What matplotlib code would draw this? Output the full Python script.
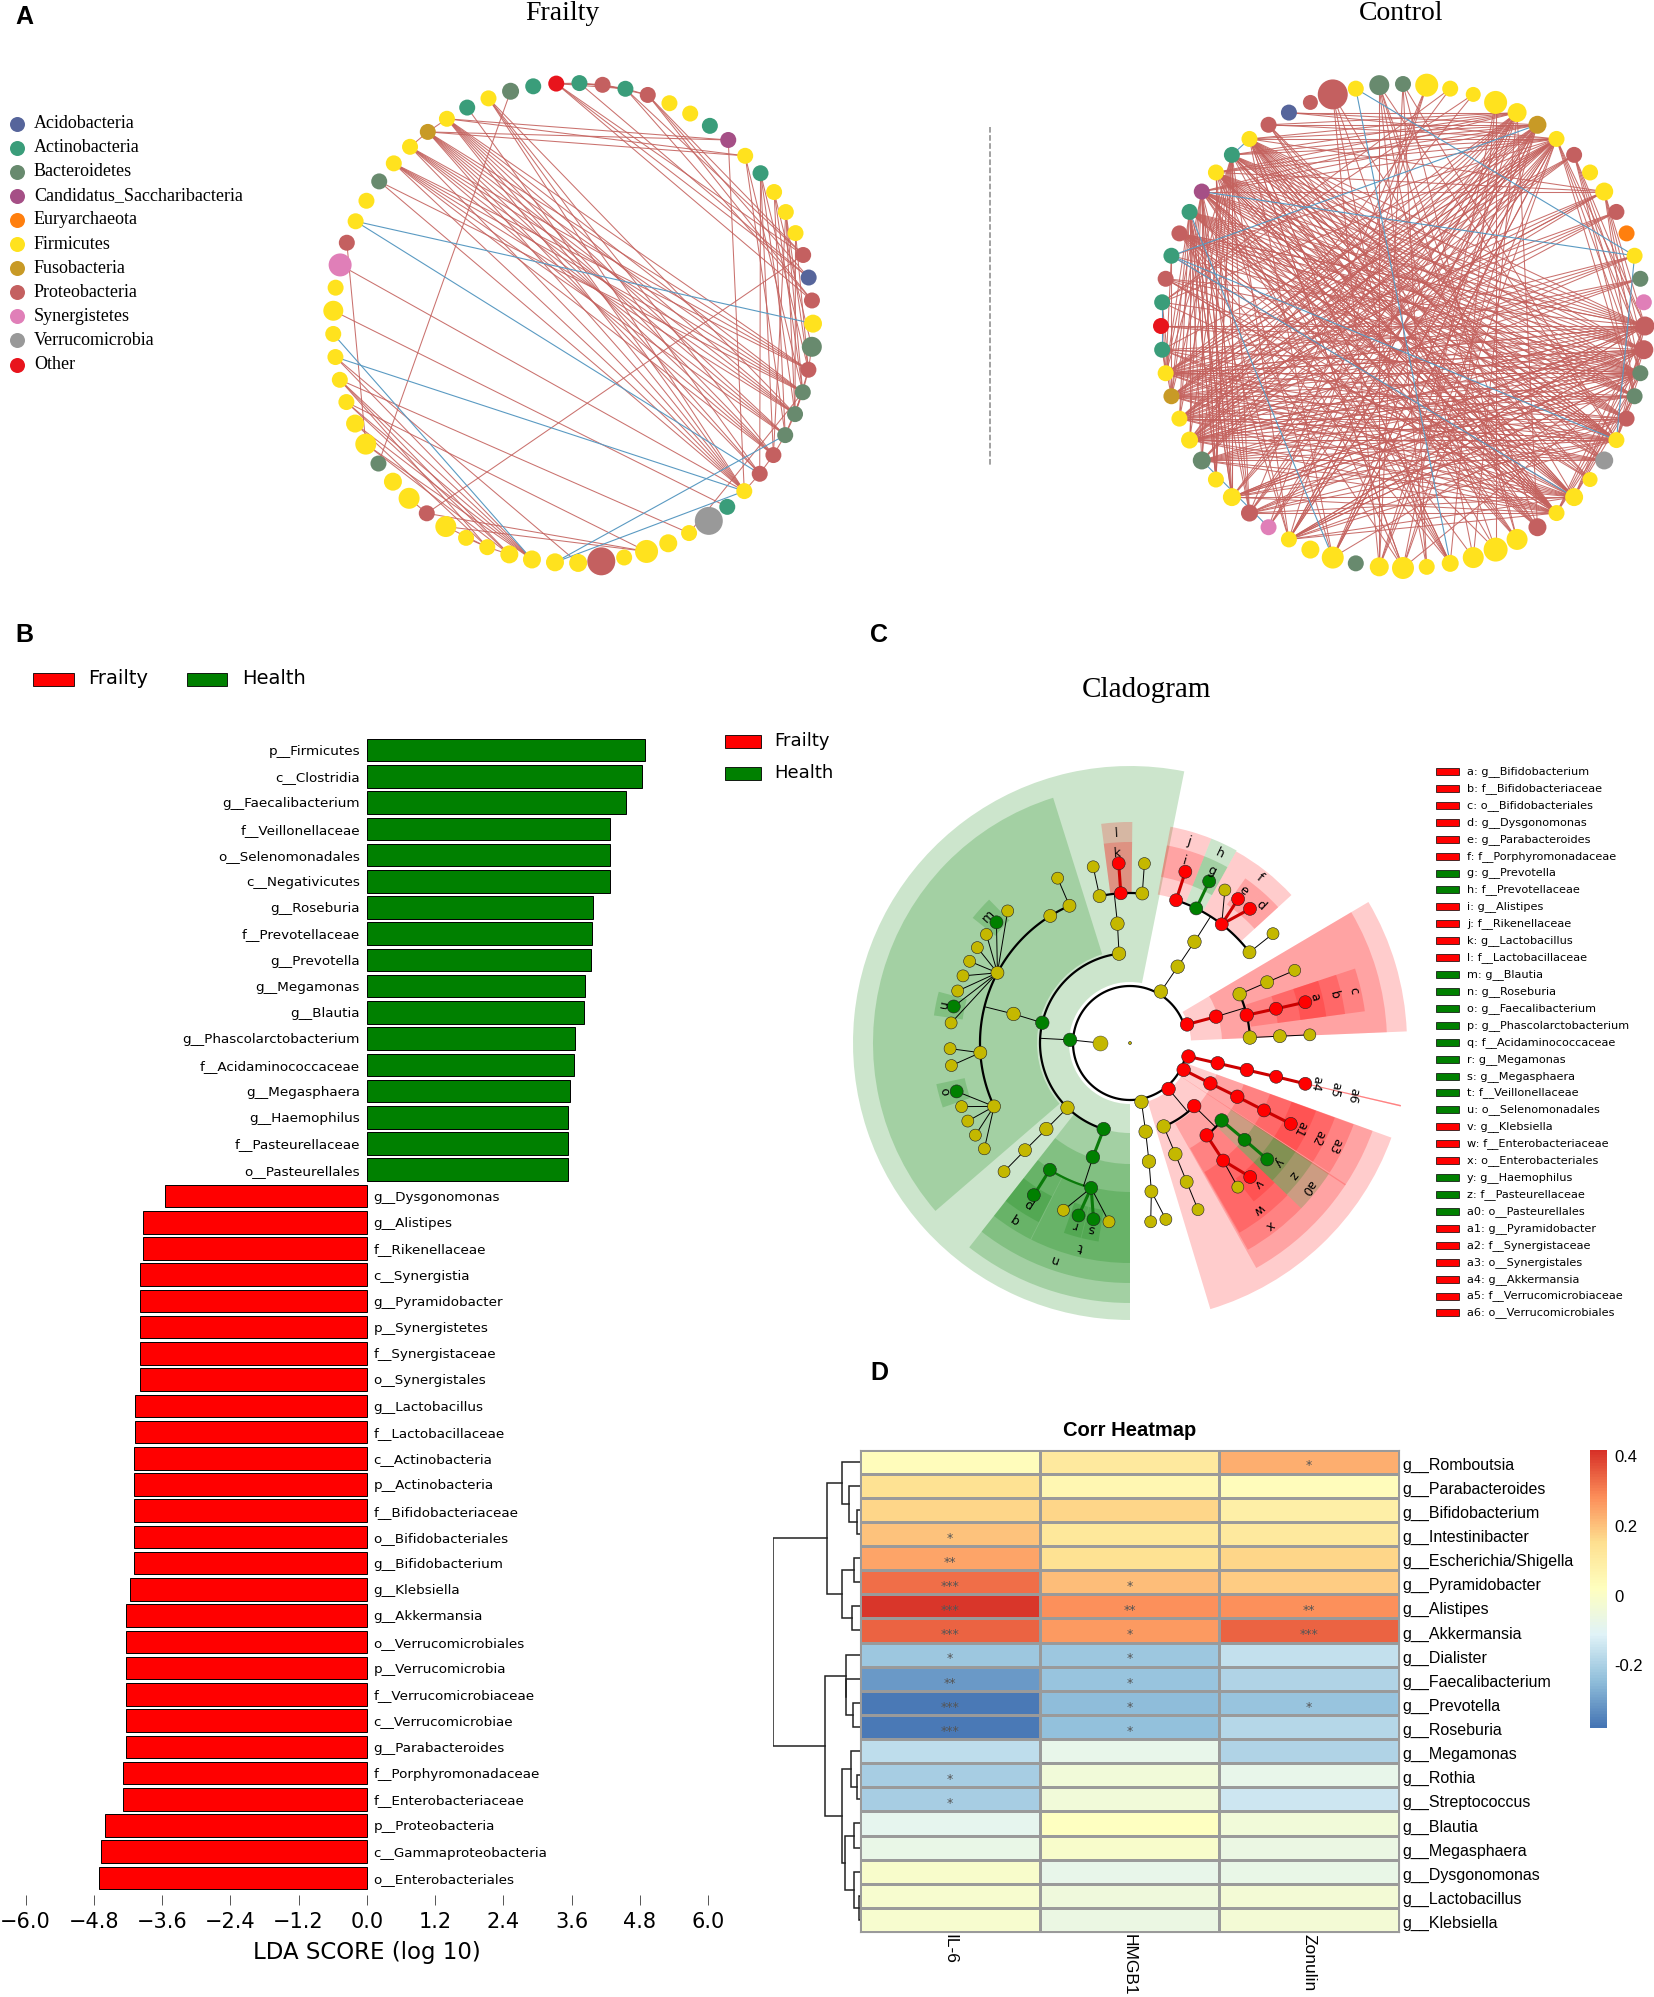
import numpy as np
import matplotlib
matplotlib.use('Agg')
import matplotlib.pyplot as plt
from matplotlib.colors import LinearSegmentedColormap
from matplotlib.patches import Wedge, Rectangle

W, H = 1654, 1997

# ---------- panel A data ----------
phylum_names = ['Acidobacteria', 'Actinobacteria', 'Bacteroidetes', 'Candidatus_Saccharibacteria',
                'Euryarchaeota', 'Firmicutes', 'Fusobacteria', 'Proteobacteria', 'Synergistetes',
                'Verrucomicrobia', 'Other']
phylum_codes = ['Ac', 'A', 'B', 'C', 'E', 'F', 'Fu', 'P', 'S', 'V', 'O']
phylum_colors = ['#56659b', '#3a9d7a', '#688a6e', '#a54f86', '#ff7f0e', '#ffe21e', '#c89a26',
                 '#c46060', '#e07fb8', '#999999', '#e8141c']

frailty_nodes = ('O A P A P F F A C F A F F F P Ac P F B P B B B P P F A V F F F F P F F F F F F F '
                 'P F F B F F F F F F F F S P F F B F F Fu F A F B A').split()
frailty_sizes = [16, 16, 16, 16, 16, 16, 16, 16, 16, 16, 16, 16, 16, 16, 16, 16, 16, 18, 20, 16,
                 16, 16, 16, 16, 16, 16, 16, 28, 16, 18, 23, 16, 28, 18, 18, 18, 18, 16, 16, 21,
                 16, 21, 18, 16, 21, 18, 16, 16, 16, 16, 20, 16, 23, 16, 16, 16, 16, 16, 16, 16,
                 16, 16, 16, 17, 16]
frailty_red = [(0, 1), (1, 2), (2, 3), (3, 4), (0, 2), (0, 3), (1, 3), (2, 4), (59, 60), (58, 59),
               (60, 8), (60, 9), (59, 8), (59, 9), (62, 21), (62, 23), (62, 24), (62, 25),
               (61, 25), (56, 20), (56, 25), (0, 14), (0, 15), (0, 16), (3, 14), (3, 16), (4, 14),
               (4, 15), (4, 16), (1, 15), (8, 25), (10, 23), (10, 24), (10, 19), (10, 21),
               (11, 18), (11, 20), (11, 22), (12, 19), (12, 20), (12, 21), (12, 23), (13, 19),
               (13, 21), (9, 20), (9, 22), (19, 20), (20, 21), (21, 22), (22, 23), (19, 21),
               (20, 22), (18, 19), (23, 24), (24, 25), (63, 43), (53, 44), (40, 14), (52, 25),
               (50, 26), (28, 20), (47, 35), (47, 36), (47, 37), (46, 35), (46, 36), (45, 35),
               (45, 37), (48, 35), (44, 35), (44, 36), (46, 30), (47, 28), (39, 30), (40, 30),
               (39, 37), (38, 37), (37, 36), (40, 41), (48, 33), (60, 25), (59, 25), (58, 25),
               (57, 25), (60, 24), (59, 24)]
frailty_red_bundle = ([60, 59, 58, 57], [19, 20, 21, 22, 23])
frailty_blue = [(54, 17), (54, 24), (48, 25), (49, 35), (34, 22), (34, 25)]

control_nodes = ('P F B B F F F F F Fu F P F F P E F B S P P B B P F V F F F P F F F F F F F B F F '
                 'F S P F F B F F Fu F A O A P A P A C F A F P Ac P').split()
control_sizes = [30, 16, 20, 16, 23, 16, 15, 23, 19, 18, 16, 16, 16, 18, 16, 16, 16, 16, 16, 19,
                 19, 16, 16, 16, 16, 18, 15, 18, 16, 18, 21, 24, 21, 17, 16, 22, 19, 16, 22, 18,
                 16, 16, 17, 18, 16, 18, 17, 16, 16, 16, 16, 16, 16, 16, 16, 16, 16, 16, 16, 16,
                 16, 16, 16, 15]
control_red_bundles = [([55, 56, 57, 58, 59, 60], [19, 20, 21, 22, 23, 24]),
                       ([57, 58, 59, 60], [27, 28, 30, 33]),
                       ([8, 9, 10], [45, 46, 47, 48, 49, 57, 58, 59, 60, 61, 62]),
                       ([13], [60, 58, 57, 47]),
                       ([45, 46, 47, 48, 49], [19, 20, 21, 22, 23, 24, 25]),
                       ([40, 42, 43], [8, 9, 10, 19, 20, 21, 23, 24, 27, 28]),
                       ([0], [36, 31, 27, 34]),
                       ([2, 3], [30, 34, 24, 36]),
                       ([4], [41, 40, 42]),
                       ([5, 6], [52, 46]),
                       ([56, 57, 59], [43, 44, 45, 46, 47, 48, 49, 40]),
                       ([52, 54, 50], [48, 49, 10, 21, 27]),
                       ([19, 20, 21, 22], [24, 27, 28, 11, 10, 13]),
                       ([27, 28], [49, 48, 45, 53, 56]),
                       ([38, 35], [10, 9, 58, 60, 21]),
                       ([29, 32], [2, 8, 57]),
                       ([46, 47, 48, 49], [10, 11, 13, 14, 16, 17]),
                       ([8, 9, 10], [36, 38, 40, 41]),
                       ([42, 43, 44], [56, 57, 58, 59]),
                       ([24, 27, 28], [57, 58, 59, 60, 46, 47]),
                       ([31, 33, 35], [55, 60, 7]),
                       ([55, 56, 58, 60, 61], [25, 26, 28, 29]),
                       ([19, 20, 21], [40, 43, 46, 49, 51]),
                       ([50, 53, 55], [21, 24, 28, 19])]
control_blue = [(1, 33), (1, 16), (60, 59), (54, 9), (57, 16), (54, 27), (56, 38), (54, 24),
                (16, 24), (52, 50), (45, 41)]

# ---------- panel B data ----------
lda_names = ['p__Firmicutes', 'c__Clostridia', 'g__Faecalibacterium', 'f__Veillonellaceae',
             'o__Selenomonadales', 'c__Negativicutes', 'g__Roseburia', 'f__Prevotellaceae',
             'g__Prevotella', 'g__Megamonas', 'g__Blautia', 'g__Phascolarctobacterium',
             'f__Acidaminococcaceae', 'g__Megasphaera', 'g__Haemophilus', 'f__Pasteurellaceae',
             'o__Pasteurellales', 'g__Dysgonomonas', 'g__Alistipes', 'f__Rikenellaceae',
             'c__Synergistia', 'g__Pyramidobacter', 'p__Synergistetes', 'f__Synergistaceae',
             'o__Synergistales', 'g__Lactobacillus', 'f__Lactobacillaceae', 'c__Actinobacteria',
             'p__Actinobacteria', 'f__Bifidobacteriaceae', 'o__Bifidobacteriales',
             'g__Bifidobacterium', 'g__Klebsiella', 'g__Akkermansia', 'o__Verrucomicrobiales',
             'p__Verrucomicrobia', 'f__Verrucomicrobiaceae', 'c__Verrucomicrobiae',
             'g__Parabacteroides', 'f__Porphyromonadaceae', 'f__Enterobacteriaceae',
             'p__Proteobacteria', 'c__Gammaproteobacteria', 'o__Enterobacteriales']
lda_values = [4.90, 4.84, 4.55, 4.28, 4.27, 4.27, 3.97, 3.96, 3.95, 3.83, 3.82, 3.66, 3.65, 3.58,
              3.54, 3.53, 3.53, -3.54, -3.94, -3.94, -3.99, -3.99, -3.99, -3.99, -3.99, -4.07,
              -4.07, -4.10, -4.10, -4.10, -4.10, -4.10, -4.16, -4.23, -4.23, -4.23, -4.23, -4.23,
              -4.23, -4.28, -4.28, -4.61, -4.68, -4.70]
lda_ticks = [-6.0, -4.8, -3.6, -2.4, -1.2, 0.0, 1.2, 2.4, 3.6, 4.8, 6.0]

# ---------- panel C data ----------
clade_legend = ['a: g__Bifidobacterium', 'b: f__Bifidobacteriaceae', 'c: o__Bifidobacteriales',
                'd: g__Dysgonomonas', 'e: g__Parabacteroides', 'f: f__Porphyromonadaceae',
                'g: g__Prevotella', 'h: f__Prevotellaceae', 'i: g__Alistipes', 'j: f__Rikenellaceae',
                'k: g__Lactobacillus', 'l: f__Lactobacillaceae', 'm: g__Blautia', 'n: g__Roseburia',
                'o: g__Faecalibacterium', 'p: g__Phascolarctobacterium', 'q: f__Acidaminococcaceae',
                'r: g__Megamonas', 's: g__Megasphaera', 't: f__Veillonellaceae',
                'u: o__Selenomonadales', 'v: g__Klebsiella', 'w: f__Enterobacteriaceae',
                'x: o__Enterobacteriales', 'y: g__Haemophilus', 'z: f__Pasteurellaceae',
                'a0: o__Pasteurellales', 'a1: g__Pyramidobacter', 'a2: f__Synergistaceae',
                'a3: o__Synergistales', 'a4: g__Akkermansia', 'a5: f__Verrucomicrobiaceae',
                'a6: o__Verrucomicrobiales']
clade_legend_group = list('rrrrrrggrrrrggggggggg') + list('rrrggg') + list('rrrrrr')
clade_label_angle = [346, 346.7, 346.9, 313.4, 306.8, 308.2, 295.3, 295.3, 286.6, 286.4, 266.3,
                     266.4, 221.8, 109.4, 165.2, 122.6, 123, 106.9, 101.7, 103.5, 191.8, 47.4,
                     52.4, 52.5, 38.6, 38.9, 39, 26.6, 26.8, 26.7, 12.3, 12.8, 13.1]
clade_label_ring = [0, 1, 2, 0, 0, 1, 0, 1, 0, 1, 0, 1, 0, 2, 0, 0, 1, 0, 0, 1, 0, 0, 1, 2, 0, 1, 2,
                    0, 1, 2, 0, 1, 2]

clade_angle = [0, 183, 301, 342, 13, 26.6, 50, 79,
               193, 263, 134, 107, 302, 343, 13, 26.7, 44.5, 68, 80,
               194, 264, 134.2, 108, 302.5, 336, 346.6, 357.4, 13, 26.6, 40.2, 50.3, 67.8, 80.9,
               176.3, 207.9, 155, 237.9, 246.2, 266.5, 258.3, 274.7, 134.4, 122.3, 105, 81.8,
               67.8, 51.6, 40.2, 26.7, 13, 346.8, 336.1, 357.4, 287.9, 296.2, 307.7, 322.8,
               246.3, 227.2, 222.1, 217.1, 212, 207, 201.9, 196.8, 191.7, 186.4, 178.2, 172.8,
               164.4, 159.3, 154.3, 149.2, 144, 134.4, 122.3, 111.7, 106.6, 101.7, 96.7, 258.2,
               266.4, 274.6, 287.9, 296.1, 301.8, 306.9, 311.8, 322.6, 336.2, 346.9, 357.4, 13.1,
               26.7, 40.3, 48.1, 53.2, 67.8, 78.5, 83.4]
clade_level = [0] + [1] * 7 + [2] * 11 + [3] * 14 + [4] * 24 + [5] * 43
clade_color = list('y' 'gyrrrry' 'gyygyrrrryy' 'yyygyyryrrgryy'
                   'yyyyyryyyggyyrgrrryyrgry'
                   'yyg' 'yyyyyg' 'yyyg' 'yyyyyg' 'yggy' 'yry' 'rgyrr' 'yyryrrgryyyy')
clade_parent = [-1, 0, 0, 0, 0, 0, 0, 0,
                1, 1, 1, 1, 2, 3, 4, 5, 6, 6, 7,
                8, 9, 10, 11, 12, 13, 13, 13, 14, 15, 16, 16, 17, 18,
                19, 19, 19, 19, 19, 20, 20, 20, 21, 22, 22, 32, 31, 30, 29, 28, 27, 25, 24, 26,
                23, 23, 23, 23,
                37, 34, 34, 34, 34, 34, 34, 34, 34, 34, 33, 33, 35, 35, 35, 35, 35, 41, 42, 43,
                43, 43, 43, 39, 38, 40, 53, 54, 55, 55, 55, 56, 51, 50, 52, 49, 48, 47, 46, 46,
                45, 44, 44]
clade_level_radius = [0, 60, 90, 120, 150, 180]
label_ring_radius = [190, 210, 229]

# start angle, end angle, inner radius, outer radius, group
shade_start = [90, 139.2, 90, 90, 90, 116.9, 117, 104.2, 99, 218.5, 188, 161,
               262.5, 262.5, 280.6, 280.6, 291.7, 291.7, 299, 305, 311,
               329.4, 329.4, 341.7, 341.7, 341.7, 12.9, 12.9, 12.9,
               19.9, 19.9, 20, 20, 20, 44, 44, 44, 33.3, 33.3, 33.3, 33.2]
shade_end = [281.3, 252.6, 128.2, 128.2, 116.7, 128.2, 128.2, 109.2, 104, 225.5, 195, 168,
             270.6, 270.6, 291.7, 291.7, 299, 299, 317.5, 311, 317.5,
             357.6, 357.6, 352.3, 352.3, 352.3, 13.2, 13.2, 13.2,
             73.2, 60.7, 33, 33, 33, 60.3, 60, 52, 44, 44, 44, 33.5]
shade_inner = [61, 93, 90, 121, 149, 149, 172, 169, 169, 172, 169, 169,
               151, 151, 151, 169, 151, 169, 151, 169, 169,
               61, 92, 122, 149, 172, 61, 61, 61,
               61, 92, 121, 149, 172, 121, 149, 172, 121, 149, 172, 61]
shade_outer = [277, 257, 260, 240, 220, 220, 201, 201, 201, 201, 198, 198,
               221, 201, 220, 201, 220, 201, 219, 201, 201,
               277, 257, 237, 217, 198, 278, 278, 278,
               278, 258, 238, 218, 198, 238, 219, 201, 238, 218, 198, 258]
shade_group = list('gggggggggggg') + list('rrrrggrrr') + list('rrrrrrrr') + list('rrrrrrrr') + list('gggr')

# ---------- panel D data ----------
heat_rows = ['g__Romboutsia', 'g__Parabacteroides', 'g__Bifidobacterium', 'g__Intestinibacter',
             'g__Escherichia/Shigella', 'g__Pyramidobacter', 'g__Alistipes', 'g__Akkermansia',
             'g__Dialister', 'g__Faecalibacterium', 'g__Prevotella', 'g__Roseburia',
             'g__Megamonas', 'g__Rothia', 'g__Streptococcus', 'g__Blautia', 'g__Megasphaera',
             'g__Dysgonomonas', 'g__Lactobacillus', 'g__Klebsiella']
heat_cols = ['IL-6', 'HMGB1', 'Zonulin']
il6_corr = [.03, .14, .17, .20, .25, .33, .41, .34, -.22, -.31, -.37, -.365, -.17, -.21, -.21,
            -.09, -.07, -.01, -.015, -.015]
hmgb1_corr = [.11, .06, .17, .12, .14, .21, .28, .26, -.22, -.23, -.25, -.24, -.08, -.04, -.04,
              .015, -.01, -.08, -.05, -.06]
zonulin_corr = [.23, .03, .09, .11, .17, .18, .28, .34, -.16, -.19, -.23, -.18, -.19, -.08, -.14,
                -.04, -.06, -.07, -.03, -.03]
il6_stars = ['', '', '', '*', '**', '***', '***', '***', '*', '**', '***', '***', '', '*', '*',
             '', '', '', '', '']
hmgb1_stars = ['', '', '', '', '', '*', '**', '*', '*', '*', '*', '*', '', '', '', '', '', '', '', '']
zonulin_stars = ['*', '', '', '', '', '', '**', '***', '', '', '*', '', '', '', '', '', '', '', '', '']
heat_palette = ['#4575B4', '#91BFDB', '#E0F3F8', '#FFFFBF', '#FEE090', '#FC8D59', '#D73027']
heat_ticks = [0.4, 0.2, 0, -0.2]
heat_min, heat_max = -0.378, 0.4186

# merges: leaf index or 20 + earlier merge number
dend_left = [2, 1, 0, 4, 6, 23, 22, 10, 9, 8, 13, 12, 18, 17, 15, 34, 31, 29, 26]
dend_right = [3, 20, 21, 5, 7, 24, 25, 11, 27, 28, 14, 30, 19, 32, 16, 33, 35, 36, 37]
dend_height = [5, 20, 31, 11, 14, 31, 59, 12, 24, 24, 5, 16, 2, 11, 11, 26, 31, 62, 154]


def polar(cx, cy, r, deg):
    t = np.radians(deg)
    return cx + r * np.cos(t), cy + r * np.sin(t)


def dot(d):
    return (d * 0.72) ** 2


def add_axes_px(x0, y0, x1, y1):
    return fig.add_axes([x0 / W, 1 - y1 / H, (x1 - x0) / W, (y1 - y0) / H])


fig = plt.figure(figsize=(W / 100, H / 100), dpi=100)
ov = fig.add_axes([0, 0, 1, 1])
ov.set_xlim(0, W)
ov.set_ylim(H, 0)
ov.axis('off')

SERIF = 'Liberation Serif'
SANS = 'Liberation Sans'

for letter, x, y in [('A', 15, 17), ('B', 15, 635), ('C', 870, 635), ('D', 870, 1373)]:
    ov.text(x, y, letter, fontsize=18, fontweight='bold', family=SANS, ha='left', va='center')

# ---------- A: networks ----------
color_of = dict(zip(phylum_codes, phylum_colors))


def draw_network(nodes, sizes, red, blue, cx, cy, radius, start):
    n = len(nodes)
    pts = [polar(cx, cy, radius, start - 90 + 360 / n * i) for i in range(n)]
    for a, b in red:
        ov.plot([pts[a][0], pts[b][0]], [pts[a][1], pts[b][1]], color='#c4625e', lw=0.75, alpha=0.9, zorder=1)
    for a, b in blue:
        ov.plot([pts[a][0], pts[b][0]], [pts[a][1], pts[b][1]], color='#5a9ac2', lw=0.8, zorder=1.5)
    ov.scatter([p[0] for p in pts], [p[1] for p in pts], s=[dot(d) for d in sizes],
               c=[color_of[c] for c in nodes], linewidths=0, zorder=3)


frailty_all = frailty_red + [(a, b) for a in frailty_red_bundle[0] for b in frailty_red_bundle[1]]
draw_network(frailty_nodes, frailty_sizes, frailty_all, frailty_blue, 573, 323, 240, -4)
control_all = [(a, b) for src, dst in control_red_bundles for a in src for b in dst]
draw_network(control_nodes, control_sizes, control_all, control_blue, 1403, 326, 242, -16.875)

ov.text(562, 13, 'Frailty', family=SERIF, fontsize=20, ha='center', va='center')
ov.text(1401, 13, 'Control', family=SERIF, fontsize=20, ha='center', va='center')
ov.plot([989.5, 989.5], [127, 465], color='#888888', lw=1.1, ls='--')
for i, (name, col) in enumerate(zip(phylum_names, phylum_colors)):
    y = 123.5 + i * 24.1
    ov.scatter([17], [y], s=dot(15), c=col, linewidths=0)
    ov.text(34, y, name, family=SERIF, fontsize=13, va='center')

# ---------- B: LDA bars ----------
ax = add_axes_px(25.5, 737, 708, 1895)
ypos = np.arange(len(lda_values))
ax.barh(ypos, lda_values, height=0.86, color=['green' if v > 0 else 'red' for v in lda_values],
        edgecolor='black', linewidth=0.7)
for y, v, name in zip(ypos, lda_values, lda_names):
    if v > 0:
        ax.text(-0.12, y + 0.05, name, ha='right', va='center', fontsize=9.7)
    else:
        ax.text(0.12, y + 0.05, name, ha='left', va='center', fontsize=9.7)
ax.set_xlim(-6, 6)
ax.set_ylim(43.65, -0.5)
ax.set_yticks([])
ax.set_xticks(lda_ticks)
ax.set_xticklabels([f'{t:.1f}'.replace('-', '\u2212') for t in lda_ticks], fontsize=15)
ax.tick_params(axis='x', length=7, width=0.7, color='#555555', pad=5)
ax.set_xlabel('LDA SCORE (log 10)', fontsize=16.5, labelpad=7)
for s in ax.spines.values():
    s.set_visible(False)
ax.patch.set_alpha(0)

for x0, x1, tx, y, name, col, fs in [(33, 74, 88, 679, 'Frailty', 'red', 14),
                                     (187, 227, 242, 679, 'Health', 'green', 14),
                                     (725, 761, 774, 741, 'Frailty', 'red', 13),
                                     (725, 761, 774, 773, 'Health', 'green', 13)]:
    ov.add_patch(Rectangle((x0, y - 6.5), x1 - x0, 13, fc=col, ec='black', lw=0.6))
    ov.text(tx, y, name, fontsize=fs, va='center')

# ---------- C: cladogram ----------
CX, CY = 1130, 1043
ov.text(1146, 690, 'Cladogram', family=SERIF, fontsize=21, ha='center', va='center')
group_rgb = {'r': '#ff0000', 'g': '#008000'}
for t1, t2, r0, r1, g in zip(shade_start, shade_end, shade_inner, shade_outer, shade_group):
    ov.add_patch(Wedge((CX, CY), r1, t1, t2, width=r1 - r0, fc=group_rgb[g], alpha=0.2, lw=0, zorder=2))

node_rgb = {'y': '#c4b800', 'r': '#ff0000', 'g': '#008000'}
children = {}
for i, p in enumerate(clade_parent):
    if p >= 0:
        children.setdefault(p, []).append(i)
for p, kids in children.items():
    pr = clade_level_radius[clade_level[p]]
    for k in kids:
        kr = clade_level_radius[clade_level[k]]
        thick = clade_color[k] != 'y' and clade_color[p] != 'y'
        col = {'r': '#cc0000', 'g': '#0a7a0a'}[clade_color[k]] if thick else 'black'
        lw = 2.2 if thick else 0.7
        if p == 0:
            continue
        if clade_level[k] == 5 or len(kids) == 1:
            x0, y0 = polar(CX, CY, pr, clade_angle[p])
            x1, y1 = polar(CX, CY, kr, clade_angle[k])
            ov.plot([x0, x1], [y0, y1], color=col, lw=lw, zorder=4)
    if p == 0 or (clade_level[kids[0]] < 5 and len(kids) > 1):
        kr = clade_level_radius[clade_level[kids[0]]] - (3 if p == 0 else 0)
        ang = [clade_angle[k] for k in kids]
        th = np.linspace(min(ang), max(ang), 120)
        xs, ys = polar(CX, CY, kr, th)
        col = 'black' if clade_color[p] != 'g' or clade_level[p] == 1 else '#0a7a0a'
        ov.plot(xs, ys, color=col, lw=1.6, zorder=4)
        if p != 0:
            x0, y0 = polar(CX, CY, pr, clade_angle[p])
            x1, y1 = polar(CX, CY, kr, clade_angle[p])
            ov.plot([x0, x1], [y0, y1], color='black', lw=0.7, zorder=4)

px, py = polar(CX, CY, 60, 183)
ix, iy = polar(CX, CY, 30, 180)
ov.plot([px, ix], [py, iy], color='black', lw=0.7, zorder=4)
ov.scatter([ix], [iy], s=dot(15), c=node_rgb['y'], edgecolors='#333333', linewidths=0.3, zorder=5)
xs, ys = polar(CX, CY, np.array([clade_level_radius[l] for l in clade_level]), np.array(clade_angle))
sizes = []
for l, c in zip(clade_level, clade_color):
    if l == 0:
        sizes.append(3)
    elif l == 5:
        sizes.append(12 if c == 'y' else 13)
    else:
        sizes.append(13.5 if l < 4 else 13)
ov.scatter(xs, ys, s=[dot(d) for d in sizes], c=[node_rgb[c] for c in clade_color],
           edgecolors='#222222', linewidths=0.4, zorder=5)

for name, ang, ring in zip(clade_legend, clade_label_angle, clade_label_ring):
    x, y = polar(CX, CY, label_ring_radius[ring], ang)
    ov.text(x, y, name.split(':')[0], rotation=-(ang + 90), rotation_mode='anchor',
            ha='center', va='center', fontsize=9, zorder=6)

for i, (name, g) in enumerate(zip(clade_legend, clade_legend_group)):
    y = 771.5 + i * 16.92
    ov.add_patch(Rectangle((1436, y - 3.5), 23, 7, fc={'r': 'red', 'g': 'green'}[g], ec='black', lw=0.5))
    ov.text(1467, y, name, fontsize=8.1, va='center')

# ---------- D: heatmap ----------
hm = add_axes_px(860, 1449.5, 1399, 1932)
cmap = LinearSegmentedColormap.from_list('pheat', heat_palette, N=100)
heat_values = np.array([il6_corr, hmgb1_corr, zonulin_corr]).T
hm.pcolormesh(heat_values, cmap=cmap, vmin=heat_min, vmax=heat_max, edgecolors='#9a9a9a', linewidth=0.8)
hm.set_xlim(0, 3)
hm.set_ylim(20, 0)
for j, col_stars in enumerate([il6_stars, hmgb1_stars, zonulin_stars]):
    for i, st in enumerate(col_stars):
        if st:
            hm.text(j + 0.5, i + 0.68, st, ha='center', va='center', fontsize=9, color='#555555')
hm.set_yticks(np.arange(20) + 0.58)
hm.yaxis.tick_right()
hm.set_yticklabels(heat_rows, family=SANS, fontsize=11.5)
hm.set_xticks([0.5, 1.5, 2.5])
hm.set_xticklabels(heat_cols, rotation=-90, family=SANS, fontsize=12.5, ha='center', va='top')
hm.tick_params(axis='y', length=0, pad=2.5)
hm.tick_params(axis='x', length=0, pad=1.5)
for s in hm.spines.values():
    s.set_color('#9a9a9a')
hm.set_title('Corr Heatmap', family=SANS, fontweight='bold', fontsize=14.5, pad=10)

de = add_axes_px(772.6, 1449.5, 860, 1932)
de.set_xlim(154, 0)
de.set_ylim(20, 0)
de.axis('off')
centers = {i: i + 0.5 for i in range(20)}
tips = {i: 0 for i in range(20)}
for m, (a, b, h) in enumerate(zip(dend_left, dend_right, dend_height)):
    ya, yb = centers[a], centers[b]
    de.plot([tips[a], h, h, tips[b]], [ya, ya, yb, yb], color='#222222', lw=1.1, solid_joinstyle='miter')
    centers[20 + m] = (ya + yb) / 2
    tips[20 + m] = h

cb = add_axes_px(1590, 1449.5, 1607, 1727.5)
grad = np.linspace(heat_max, heat_min, 200).reshape(-1, 1)
cb.imshow(grad, aspect='auto', cmap=cmap, vmin=heat_min, vmax=heat_max, extent=[0, 1, heat_min, heat_max])
cb.set_xticks([])
cb.yaxis.tick_right()
cb.set_yticks(heat_ticks)
cb.set_yticklabels(['0.4', '0.2', '0', '-0.2'], family=SANS, fontsize=12)
cb.tick_params(length=0, pad=5)
for s in cb.spines.values():
    s.set_visible(False)

fig.savefig('out.png', dpi=100)
